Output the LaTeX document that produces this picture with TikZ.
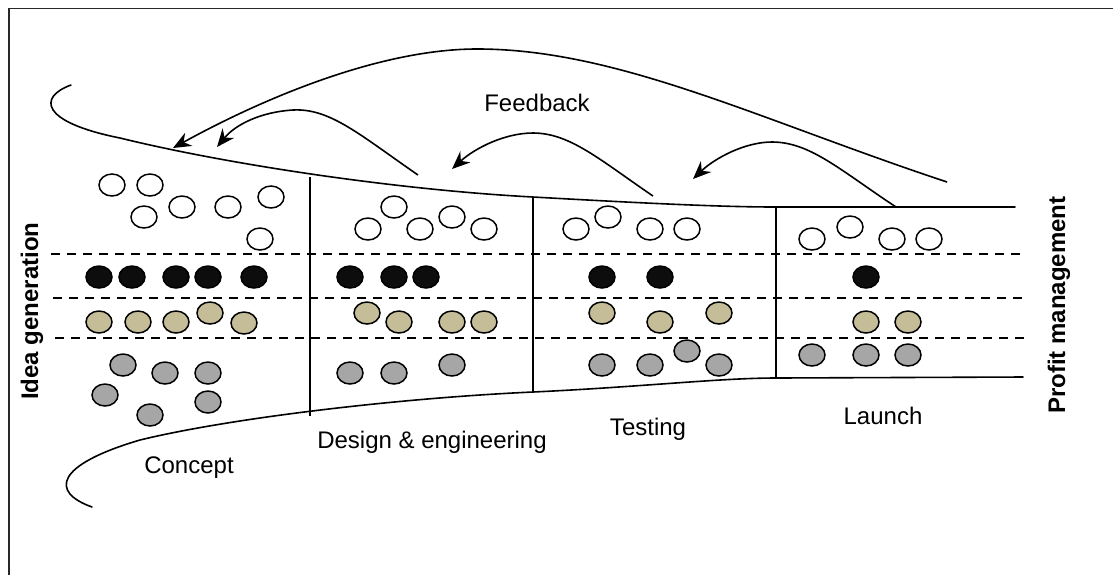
\documentclass[tikz,border=0pt]{standalone}
\usepackage{fontspec}
\setmainfont{Liberation Sans}
\usetikzlibrary{arrows.meta,shapes.geometric}

\definecolor{tanfill}{RGB}{196,189,151}
\definecolor{greyfill}{RGB}{166,166,166}
\definecolor{darkfill}{RGB}{13,13,13}
\definecolor{framegrey}{RGB}{40,40,40}

\tikzset{
  blob/.style={ellipse, draw=black, line width=0.75pt, minimum width=13pt,
               minimum height=11pt, inner sep=0pt},
  wblob/.style={blob, fill=white},
  kblob/.style={blob, fill=darkfill},
  tblob/.style={blob, fill=tanfill},
  gblob/.style={blob, fill=greyfill},
  rim/.style={line width=0.8pt, line cap=round},
  lane/.style={line width=0.65pt, dash pattern=on 4.5pt off 3.5pt},
  fb/.style={line width=0.8pt, -{Stealth[length=9pt, width=7.5pt, inset=3pt]}},
  lbl/.style={font=\fontsize{12}{14}\selectfont, inner sep=0pt, anchor=base},
  side/.style={font=\fontsize{12}{14}\selectfont\bfseries, inner sep=0pt, rotate=90},
}

\begin{document}
\begin{tikzpicture}[x=0.5pt, y=-0.5pt]
  \useasboundingbox (0,0) rectangle (1113,575);
  \fill[white] (0,0) rectangle (1113,575);

  % outer frame (left and top edges)
  \draw[framegrey, line width=0.9pt] (9,575) -- (9,8.5) -- (1113,8.5);

  % funnel outline
  \coordinate (tA) at (71,85);
  \coordinate (tB) at (120,138);
  \coordinate (tC) at (533,197);
  \coordinate (tD) at (776,207);
  \coordinate (tE) at (1015,207);
  \draw[rim] (tA) .. controls (38,97) and (40,122) .. (tB)
             .. controls (230,165) and (400,190) .. (tC)
             .. controls (640,203) and (720,207) .. (tD) -- (tE);

  \coordinate (bA) at (92,507);
  \coordinate (bB) at (140,440);
  \coordinate (bC) at (533,392);
  \coordinate (bD) at (776,378);
  \coordinate (bE) at (1023,377);
  \draw[rim] (bA) .. controls (50,492) and (55,465) .. (bB)
             .. controls (230,418) and (400,398) .. (bC)
             .. controls (640,387) and (720,378) .. (bD) -- (bE);

  % stage dividers
  \draw[line width=0.75pt] (310,177) -- (310,416);
  \draw[line width=0.75pt] (533,197) -- (533,392);
  \draw[line width=0.75pt] (776,207) -- (776,377);

  % lanes
  \draw[lane] (51,254) -- (1027,254);
  \draw[lane] (53,298) -- (1027,298);
  \draw[lane] (55,338) -- (1028,338);

  % ideas in each lane
  \foreach \x/\y [count=\i] in {112/185,150/185,182/207,144/217,228/207,271/197,260/239,
      368/229,394/207,420/229,452/217,484/229,
      576/229,608/217,650/229,687/229,
      812/239,850/227,892/239,929/239}
    \node[wblob] (w\i) at (\x,\y) {};
  \foreach \x [count=\i] in {99,132,176,208,254,350,394,426,602,660,866}
    \node[kblob] (k\i) at (\x,277) {};
  \foreach \x/\y [count=\i] in {99/322,138/322,176/322,210/313,244/323,
      367/313,399/322,452/322,484/322,
      602/313,660/322,719/313,
      866/322,908/322}
    \node[tblob] (t\i) at (\x,\y) {};
  \foreach \x/\y [count=\i] in {123/365,165/373,208/373,105/395,150/415,208/402,
      350/373,394/373,452/365,
      602/365,650/365,687/351,719/365,
      812/355,866/355,908/355}
    \node[gblob] (g\i) at (\x,\y) {};

  % feedback loops
  \coordinate (f1s) at (947,182);
  \coordinate (f1p) at (480,49);
  \coordinate (f1t) at (173,148);
  \draw[fb] (f1s) .. controls (760,120) and (620,50) .. (f1p)
                  .. controls (380,48) and (260,100) .. (f1t);

  \coordinate (f2s) at (418,175);
  \coordinate (f2p) at (293,110);
  \coordinate (f2t) at (217,147);
  \draw[fb] (f2s) .. controls (360,135) and (330,108) .. (f2p)
                  .. controls (260,112) and (235,125) .. (f2t);

  \coordinate (f3s) at (653,196);
  \coordinate (f3p) at (533,133);
  \coordinate (f3t) at (452,169);
  \draw[fb] (f3s) .. controls (600,160) and (570,133) .. (f3p)
                  .. controls (505,133) and (475,148) .. (f3t);

  \coordinate (f4s) at (896,207);
  \coordinate (f4p) at (772,142);
  \coordinate (f4t) at (693,179);
  \draw[fb] (f4s) .. controls (840,170) and (810,142) .. (f4p)
                  .. controls (745,142) and (715,158) .. (f4t);

  % labels
  \node[lbl] (feedback) at (537,111) {Feedback};
  \node[lbl] (concept)  at (189,473) {Concept};
  \node[lbl] (design)   at (432,448) {Design \& engineering};
  \node[lbl] (testing)  at (648,435) {Testing};
  \node[lbl] (launch)   at (883,424) {Launch};
  \node[side] (idea)   at (32,311)   {Idea generation};
  \node[side] (profit) at (1059,305) {Profit management};
\end{tikzpicture}
\end{document}
